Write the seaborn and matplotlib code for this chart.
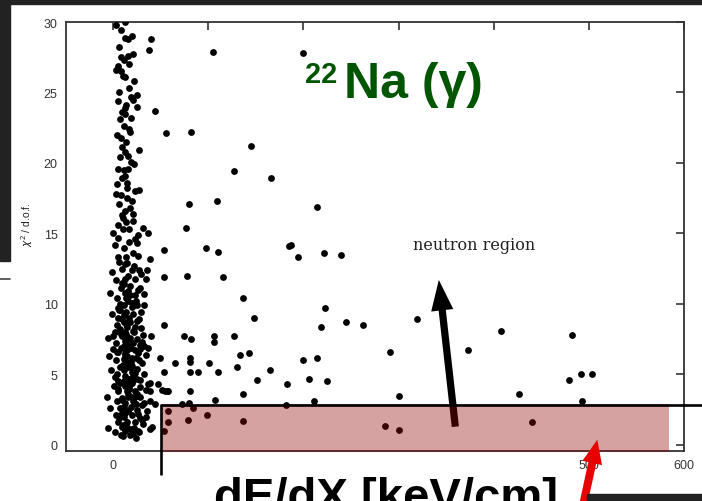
import matplotlib
matplotlib.use("Agg")
import matplotlib.pyplot as plt
from matplotlib.patches import Rectangle, FancyArrowPatch
import seaborn as sns
import pandas as pd

# ---- data ----
cluster_dedx = [12, 3, 8, 13, 16, 8, 11, 21, 5, 8, 13, 22, 25, 5, 14, 25, 9, 13, 7, 19,
                17, 18, 9, 12, 16, 5, 16, 13, 9, 4, 15, 23, 27, 8, 15,
                6, 13, 21, 14, 5, 17, 31, 26, 37, 23, 2, 11, 17, 5, 14, 15, 22, 9, 20, 27, 36,
                3, 13, 23, 35, 11, 18, 28, 4, 14, 11, 25, 32, 5, 14, 21, 5, 11, 18, 25, 4, 15,
                23, 7, 0, 9, 18, 25, 3, 11, 21, 5, 15, 23, 32, 37, 3, 11, 20, 27, 7, 16, 25, 4,
                13, 21, 11, 20, 28, 39, 5, 15, 23,
                5, 13, 21, 37, 47, 39, 51, 57, 5, 16, 25, 4, 13, 21, 32, 39, 44, 7, 16, 25, 36,
                3, 11, 20, 28, 5, 15, 23, 41, 9, 18, 21, 39, 13,
                -5, 2, 8, 26, 31, 35, -3, 30, -6, 9, 28, 35, 1, 17, 25, 33, -2, 11, 20, 30, -4,
                15, 24, 35, 0, 8, 19, 28, -5, 13, 31, 2, 21, 29, 9, -1, 17, 29, 7, 20, -3, 12,
                23, 33, 8, 16, -1, 6, 26, 0, 10, 21, 9, 3, 20, 11, 19, 7, 14, 4, 11, 21, 6, 17,
                10, 17, 6, 20,
                10, 18, 27, 14, 22, 6, 30, 12, 19, 26, 9, 16, 24, 2, 13, 20, 28, 7, 17, 23, 10,
                15, 26, 4, 12, 19, 30, 8, 17, 22, 14, 27, 6, 11, 20, 24, 16, 9, 18, 29, 13, 21,
                5, 25, 10, 18, 15, 22, 8, 27, 12, 19, 3, 16, 24, 11, 20, 14, 28, 7, 17, 22, 10,
                26, 13, 19, 9, 16, 23, 12, 18, 15]
cluster_chi2 = [30.0, 29.8, 29.4, 28.9, 28.8, 27.5, 27.3, 27.7, 26.9, 26.5, 26.1, 25.8, 24.8,
                24.4, 24.1, 24.0, 23.6, 23.5, 23.1, 23.2, 22.4, 22.2, 21.1, 20.8, 20.5, 19.6,
                19.6, 19.1, 18.9, 18.5, 18.6, 18.0, 18.1, 17.7, 18.2,
                17.1, 16.6, 16.4, 15.8, 15.6, 15.3, 15.4, 14.9, 15.0, 14.6, 14.2, 14.0, 14.4,
                13.3, 13.3, 12.9, 12.7, 12.5, 12.4, 12.4, 12.4, 11.7, 11.8, 11.8, 11.8, 11.4,
                11.3, 11.1, 10.4, 10.4, 9.9, 9.9, 9.9, 9.7, 9.4, 9.3, 9.0, 8.7, 8.7, 8.8, 8.5,
                8.4, 8.4, 8.2, 7.7, 7.7, 7.6, 7.5, 7.2, 7.0, 7.2, 6.6, 6.7, 6.7, 7.0, 6.9, 6.0,
                6.1, 6.2, 6.0, 5.5, 5.5, 5.4, 5.0, 4.9, 4.9, 4.5, 4.4, 4.6, 4.4, 4.0, 3.8, 3.8,
                4.5, 4.5, 4.6, 4.3, 4.3, 3.8, 3.9, 3.8, 3.8, 3.6, 3.6, 3.1, 3.0, 3.1, 3.0, 3.1,
                2.9, 2.6, 2.4, 2.5, 2.4, 2.1, 2.0, 2.1, 1.9, 1.6, 1.6, 1.6, 1.3, 1.3, 1.1,
                0.85, 1.1, 1.0,
                1.2, 0.9, 0.7, 1.0, 1.5, 2.0, 2.6, 2.8, 3.4, 3.3, 3.4, 3.9, 4.2, 4.1, 4.7,
                5.0, 5.3, 5.3, 5.6, 5.8, 6.3, 6.3, 6.2, 6.4, 6.8, 6.9, 6.9, 7.1, 7.6, 7.4,
                7.8, 8.0, 8.1, 8.3, 8.9, 9.3, 9.0, 9.4, 10.0, 10.1, 10.8, 10.8, 10.6, 10.7,
                11.1, 12.0, 12.3, 13.0, 13.4, 15.0, 15.3, 15.9, 16.3, 17.8, 17.3, 19.5, 20.1,
                20.4, 21.5, 22.0, 22.6, 24.5, 25.0, 25.3, 26.2, 27.0, 28.2, 29.0,
                0.6, 0.7, 0.9, 1.4, 1.2, 1.9, 1.8, 2.3, 2.7, 2.2, 3.2, 3.4, 2.9, 4.8, 4.2, 3.4,
                4.1, 4.4, 4.7, 5.1, 5.7, 5.9, 6.5, 6.6, 6.4, 5.6, 7.3, 7.9, 7.1, 8.0, 8.6, 8.9,
                9.6, 9.2, 9.8, 10.2, 10.9, 11.5, 10.6, 12.1, 12.8, 13.6, 14.7, 14.3, 16.1, 16.8,
                17.5, 19.9, 21.8, 20.9, 23.9, 24.7, 26.6, 27.6, 0.5, 2.7, 5.2, 7.9, 6.8, 9.6,
                4.0, 3.0, 1.4, 11.0, 8.0, 5.9, 2.3, 10.2, 3.4, 6.5, 4.3, 7.5]

outer_dedx = [40, 38, 105, 200, 44, 56, 82, 145, 127, 166, 80, 109, 214, 77, 98, 110, 53,
              39, 53, 78, 115, 137, 148, 54, 40, 74, 82, 106, 106, 127, 143, 133, 81, 81, 65,
              101, 130, 165, 81, 89, 110, 151, 183, 81, 58, 136, 185, 49, 53, 55,
              187, 194, 222, 240, 223, 218, 245, 263, 319, 408, 482, 373, 291, 200, 214,
              206, 225, 479, 492, 503, 300, 427, 182, 211, 493,
              58, 58, 53, 79, 99, 136, 286, 300, 84, 80, 72, 107, 440]
outer_chi2 = [28.8, 28.0, 27.9, 27.8, 23.7, 22.1, 22.2, 21.2, 19.4, 18.9, 17.1, 17.3, 16.9,
              15.4, 14.0, 13.7, 13.8, 13.2, 11.9, 12.0, 11.9, 10.4, 9.0, 8.5, 7.7, 7.7, 7.5,
              7.7, 7.3, 7.7, 6.5, 6.4, 6.2, 5.9, 5.8, 5.8, 5.5, 5.3, 5.2, 5.2, 5.2, 4.6, 4.3,
              3.8, 3.8, 3.6, 14.1, 6.2, 5.2, 3.8,
              14.2, 13.3, 13.6, 13.5, 9.7, 8.4, 8.7, 8.5, 8.9, 8.1, 7.8, 6.7, 6.6, 6.0, 6.2,
              4.7, 4.5, 4.6, 5.0, 5.0, 3.5, 3.6, 2.8, 3.1, 3.1,
              2.4, 1.6, 1.0, 1.8, 2.1, 1.7, 1.35, 1.07, 2.6, 3.0, 2.9, 3.2, 1.6]

x_ticks = [0, 100, 200, 300, 400, 500, 600]
x_tick_labels = ["0", "", "", "", "", "500", "600"]
y_ticks = [0, 5, 10, 15, 20, 25, 30]

df = pd.DataFrame({"dedx": cluster_dedx + outer_dedx,
                   "chi2": cluster_chi2 + outer_chi2})

sns.set_style("white")
plt.rcParams["font.family"] = ["Liberation Sans", "DejaVu Sans"]

W, H = 702, 502
fig = plt.figure(figsize=(W / 100, H / 100), dpi=100)
fig.patch.set_facecolor("white")


def fx(px):
    return px / W


def fy(py):
    return 1 - py / H


# dark slide background pieces
for (x0, y0, x1, y1) in [(0, 0, 702, 5), (0, 0, 10, 262), (587, 495, 702, 502)]:
    fig.patches.append(Rectangle((fx(x0), fy(y1)), fx(x1) - fx(x0), fy(y0) - fy(y1),
                                 transform=fig.transFigure, color="#222222", zorder=0))
fig.add_artist(plt.Line2D([0, fx(10)], [fy(280), fy(280)], color="#444444", lw=1.2))

ax = fig.add_axes([fx(66), fy(452), fx(684) - fx(66), fy(23) - fy(452)])
ax.set_facecolor("white")

sns.scatterplot(data=df, x="dedx", y="chi2", ax=ax, color="black", marker="o",
                s=24, linewidth=0, legend=False, zorder=3)

ax.set_xlim(-49.5, 600)
ax.set_ylim(-0.43, 30)
ax.set_xticks(x_ticks)
ax.set_xticklabels(x_tick_labels)
ax.set_yticks(y_ticks)
ax.set_xlabel("")
ax.set_ylabel("")
ax.tick_params(direction="in", length=6, width=1.2, top=True, right=True,
               labelsize=9, colors="#333333", pad=6)
for sp in ax.spines.values():
    sp.set_color("#333333")
    sp.set_linewidth(1.3)

# y label
fig.text(fx(27), fy(225), r"$\chi^2$ / d.o.f.", rotation=90, ha="center", va="center",
         fontsize=7.5, color="#222222")

# big black arrow to neutron region (under the band)
ax.add_patch(FancyArrowPatch((360, 1.1), (342, 11.9),
                             arrowstyle="simple,head_length=1.1,head_width=0.8,tail_width=0.26",
                             mutation_scale=20, color="black", lw=0, zorder=4,
                             clip_on=False))

# translucent red band
ax.add_patch(Rectangle((50, -0.5), 534.3, 3.4, facecolor="#920000", alpha=0.37,
                       edgecolor="none", zorder=5, clip_on=False))
ax.plot([50, 625], [2.85, 2.85], color="black", lw=1.9, zorder=6, clip_on=False,
        solid_capstyle="butt")
ax.plot([50, 50], [2.9, -2.15], color="black", lw=1.9, zorder=6, clip_on=False,
        solid_capstyle="butt")

# red arrow
ax.add_patch(FancyArrowPatch((492.6, -4.7), (509.5, 0.57),
                             arrowstyle="simple,head_length=0.86,head_width=0.72,tail_width=0.29",
                             mutation_scale=20, color="#e80000", lw=0, zorder=7,
                             clip_on=False))

fig.text(fx(413), fy(245), "neutron region", fontsize=11.5, family="DejaVu Serif",
         color="#222222", ha="left", va="center")

# slide text
fig.text(fx(305), fy(83), "22", fontsize=21, fontweight="bold", color="#005500",
         ha="left", va="baseline")
fig.text(fx(344), fy(98), "Na (\u03b3)", fontsize=36, fontweight="bold", color="#005500",
         ha="left", va="baseline")

fig.text(fx(386), fy(511), "dE/dX [keV/cm]", fontsize=34, fontweight="bold",
         color="black", ha="center", va="baseline")

fig.savefig("out.png", dpi=100, facecolor="white")
